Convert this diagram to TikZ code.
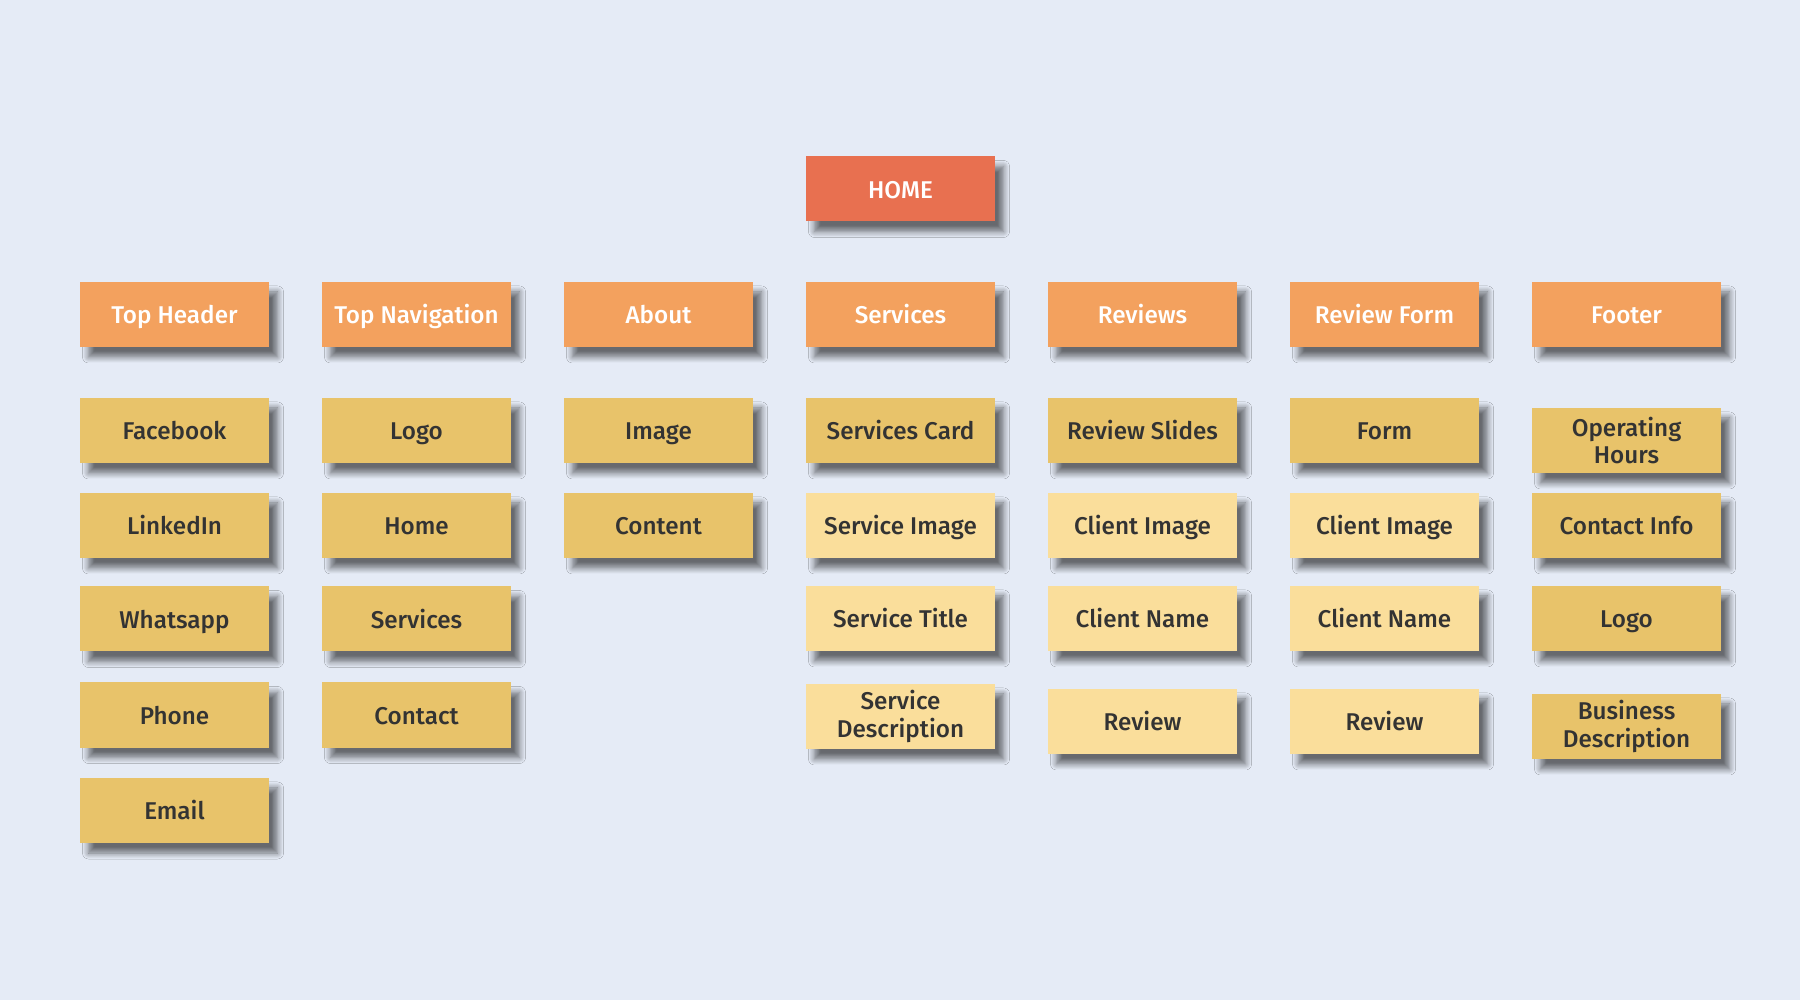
\documentclass[tikz,border=0pt]{standalone}
\usepackage{fontspec}
\setmainfont{Fira Sans}[BoldFont={Fira Sans Medium}]
\usepackage{xcolor}
\usetikzlibrary{positioning,shadows.blur}
\definecolor{pagebg}{RGB}{229,235,246}
\definecolor{homered}{RGB}{232,112,80}
\definecolor{sectorange}{RGB}{243,161,94}
\definecolor{itemgold}{RGB}{232,195,106}
\definecolor{itemlight}{RGB}{250,222,155}
\definecolor{shadowgrey}{RGB}{120,132,155}
\definecolor{textdark}{RGB}{51,51,51}

\begin{document}
\begin{tikzpicture}[
    box/.style={minimum width=3.78cm, minimum height=1.3cm, align=center, inner sep=2pt,
        text height=1.2em, text depth=0.16em,
        font=\fontsize{13.8}{15.5}\selectfont\bfseries,
        blur shadow={shadow xshift=0.17cm, shadow yshift=-0.2cm, shadow blur radius=0.12cm,
            shadow opacity=55, shadow blur steps=8, fill=shadowgrey}},
    twoline/.style={text height=, text depth=},
    homebox/.style={box, fill=homered, text=white},
    section/.style={box, fill=sectorange, text=white},
    item/.style={box, fill=itemgold, text=textdark},
    subitem/.style={box, fill=itemlight, text=textdark}
]

% page background and fixed bounds
\fill[pagebg] (0,0) rectangle (36,20);
\useasboundingbox (0,0) rectangle (36,20);

% Root
\node[homebox] (home) at (18.01, 16.22) {HOME};

% Sections, one column each
\node[section] (topheader) at (3.49, 13.71) {Top Header};
\node[section] (topnav) at (8.33, 13.71) {Top Navigation};
\node[section] (about) at (13.17, 13.71) {About};
\node[section] (services) at (18.01, 13.71) {Services};
\node[section] (reviews) at (22.85, 13.71) {Reviews};
\node[section] (reviewform) at (27.69, 13.71) {Review Form};
\node[section] (footer) at (32.53, 13.71) {Footer};

% Top Header items
\node[item] (facebook) at (3.49, 11.39) {Facebook};
\node[item] (linkedin) at (3.49, 9.49) {LinkedIn};
\node[item] (whatsapp) at (3.49, 7.62) {Whatsapp};
\node[item] (phone) at (3.49, 5.70) {Phone};
\node[item] (email) at (3.49, 3.79) {Email};

% Top Navigation items
\node[item] (navlogo) at (8.33, 11.39) {Logo};
\node[item] (navhome) at (8.33, 9.49) {Home};
\node[item] (navservices) at (8.33, 7.62) {Services};
\node[item] (navcontact) at (8.33, 5.70) {Contact};

% About items
\node[item] (aboutimage) at (13.17, 11.39) {Image};
\node[item] (aboutcontent) at (13.17, 9.49) {Content};

% Services items
\node[item] (servicescard) at (18.01, 11.39) {Services Card};
\node[subitem] (serviceimage) at (18.01, 9.49) {Service Image};
\node[subitem] (servicetitle) at (18.01, 7.63) {Service Title};
\node[subitem, twoline] (servicedesc) at (18.01, 5.67) {Service\\Description};

% Reviews items
\node[item] (reviewslides) at (22.85, 11.39) {Review Slides};
\node[subitem] (clientimage) at (22.85, 9.49) {Client Image};
\node[subitem] (clientname) at (22.85, 7.63) {Client Name};
\node[subitem] (review) at (22.85, 5.57) {Review};

% Review Form items
\node[item] (form) at (27.69, 11.39) {Form};
\node[subitem] (formimage) at (27.69, 9.49) {Client Image};
\node[subitem] (formname) at (27.69, 7.63) {Client Name};
\node[subitem] (formreview) at (27.69, 5.57) {Review};

% Footer items
\node[item, twoline] (hours) at (32.53, 11.19) {Operating\\Hours};
\node[item] (contactinfo) at (32.53, 9.49) {Contact Info};
\node[item] (footerlogo) at (32.53, 7.63) {Logo};
\node[item, twoline] (bizdesc) at (32.53, 5.47) {Business\\Description};

\end{tikzpicture}
\end{document}
